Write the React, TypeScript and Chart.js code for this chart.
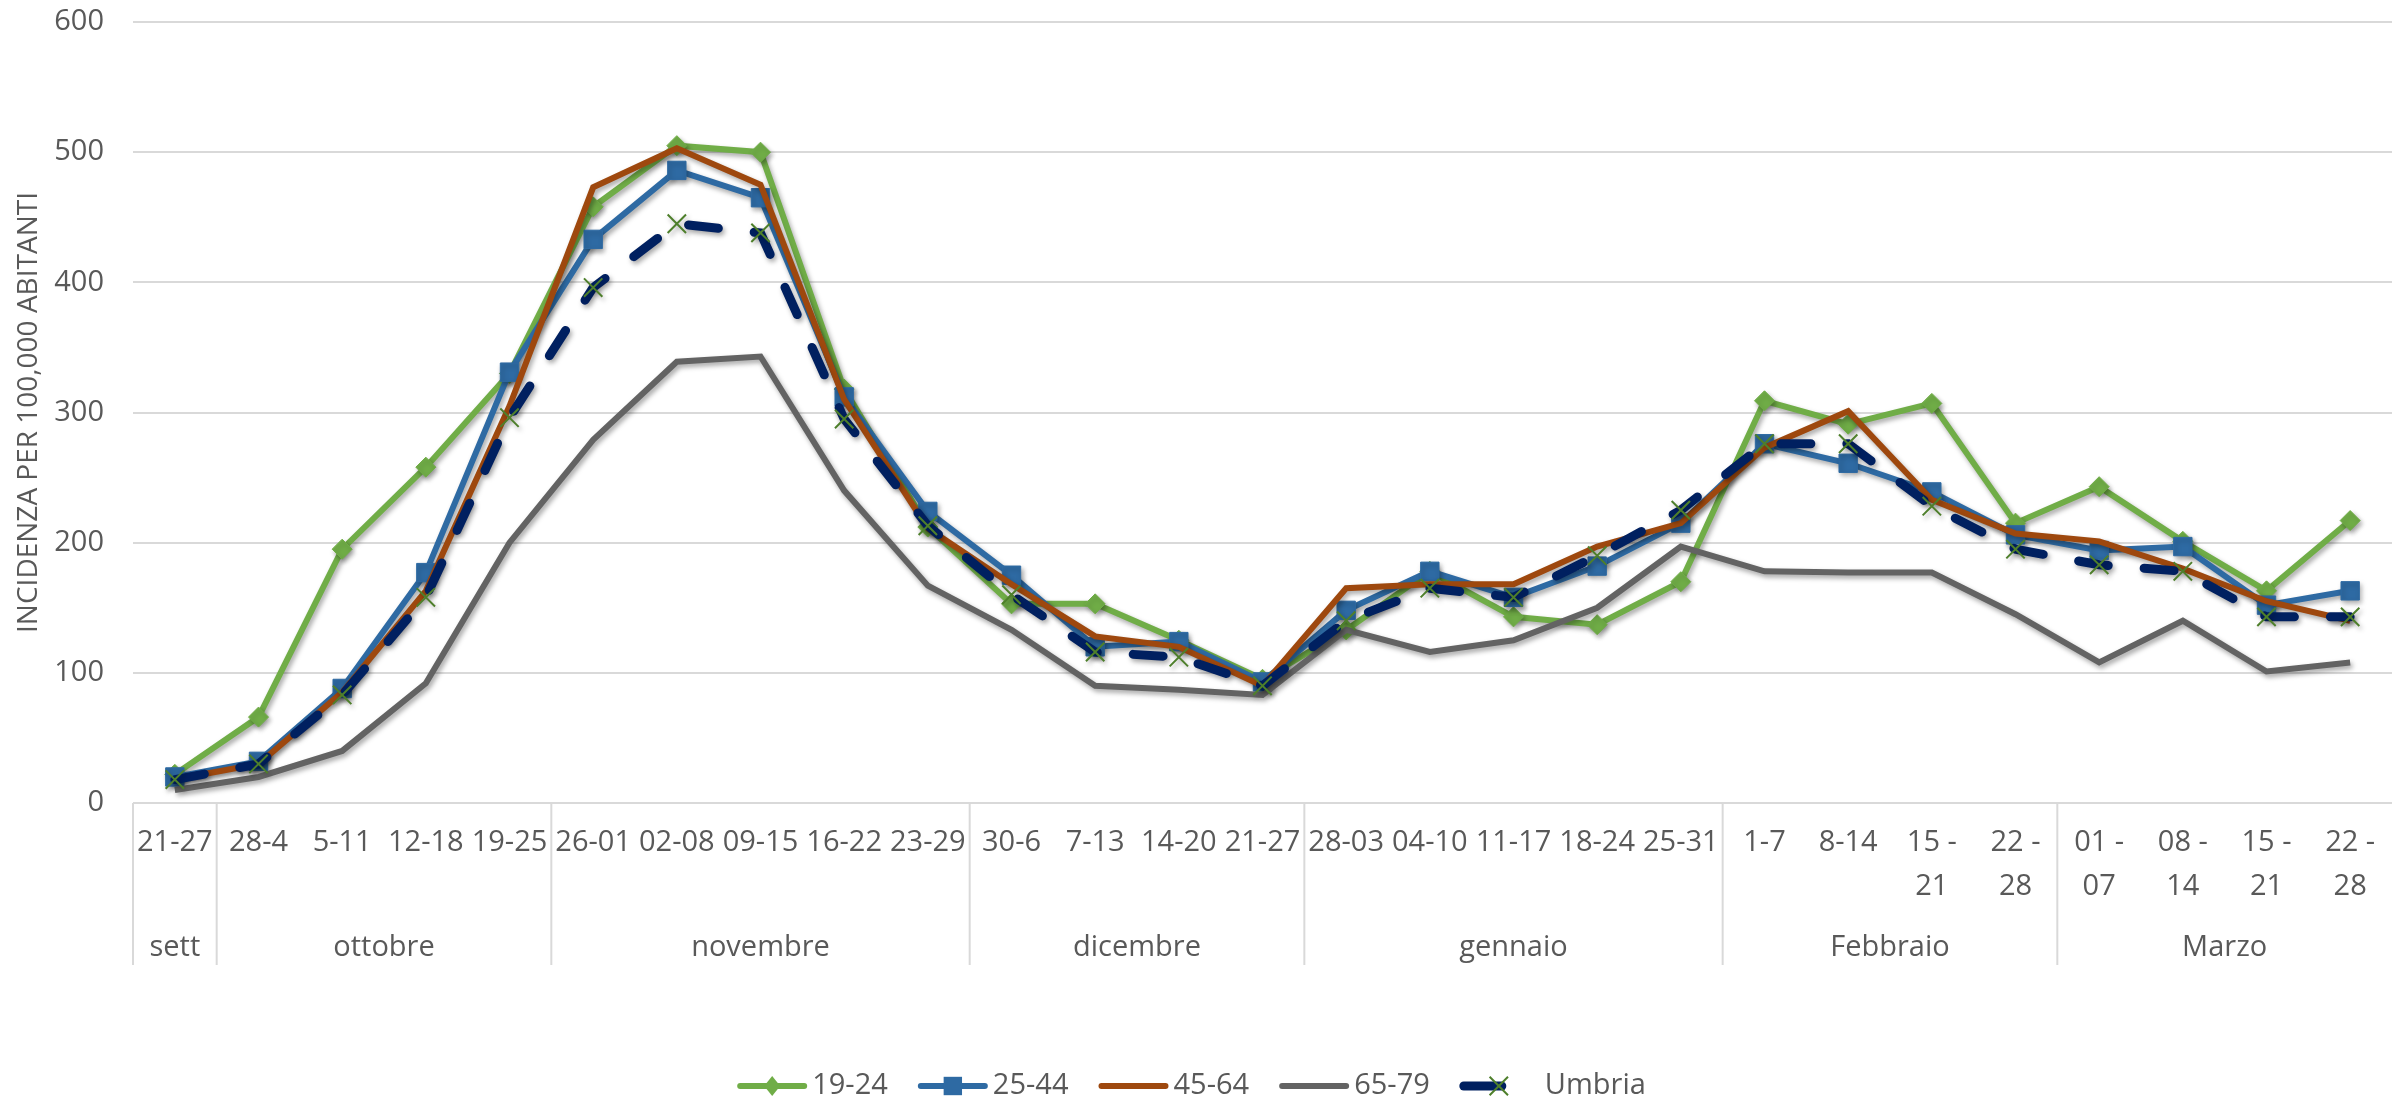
import React, { useEffect, useRef } from 'react';
import { Chart, registerables } from 'chart.js';

Chart.register(...registerables);

const W = 2407;
const H = 1099;

const weekLabels = ['21-27', '28-4', '5-11', '12-18', '19-25', '26-01', '02-08', '09-15', '16-22', '23-29', '30-6', '7-13', '14-20', '21-27', '28-03', '04-10', '11-17', '18-24', '25-31', '1-7', '8-14', '15 - 21', '22 - 28', '01 - 07', '08 - 14', '15 - 21', '22 - 28'];
const monthNames = ['sett', 'ottobre', 'novembre', 'dicembre', 'gennaio', 'Febbraio', 'Marzo'];
const monthSpans = [1, 4, 5, 4, 5, 4, 4];

const s1924 = [22, 66, 195, 258, 330, 458, 505, 500, 318, 212, 153, 153, 125, 95, 133, 178, 143, 137, 170, 309, 291, 307, 215, 243, 201, 163, 217];
const s2544 = [20, 32, 88, 177, 331, 433, 486, 465, 312, 224, 175, 120, 124, 93, 148, 178, 158, 182, 215, 276, 261, 239, 206, 194, 197, 152, 163];
const s4564 = [18, 30, 85, 163, 305, 473, 503, 475, 310, 211, 168, 128, 120, 90, 165, 168, 168, 197, 215, 273, 301, 233, 207, 201, 180, 155, 140];
const s6579 = [10, 20, 40, 92, 200, 279, 339, 343, 240, 167, 133, 90, 87, 83, 133, 116, 125, 150, 197, 178, 177, 177, 145, 108, 140, 101, 108];
const sUmbria = [18, 30, 83, 158, 296, 396, 445, 438, 295, 213, 160, 116, 112, 90, 140, 165, 158, 190, 225, 276, 276, 228, 195, 183, 178, 143, 143];

const yTicksMax = 600;
const yTicksStep = 100;
const yTitle = 'INCIDENZA PER 100,000 ABITANTI';

const FONT = "'Open Sans', 'Noto Sans', sans-serif";
const TXT = '#595959';
const GRID = '#d9d9d9';

const C_GREEN = '#70AD47';
const C_BLUE = '#2E6AA3';
const C_ORANGE = '#9E480E';
const C_GRAY = '#636363';
const C_NAVY = '#002060';
const C_X = '#4E7F2B';

function splitLabel(l: string): string | string[] {
  if (l.includes(' - ')) {
    const [a, b] = l.split(' - ');
    return [a + ' -', b];
  }
  return l;
}

const shadowPlugin = {
  id: 'shadowPlugin',
  beforeDatasetsDraw(chart: any) {
    const ctx = chart.ctx;
    ctx.save();
    ctx.shadowColor = 'rgba(0,0,0,0.35)';
    ctx.shadowBlur = 5;
    ctx.shadowOffsetX = 2;
    ctx.shadowOffsetY = 3;
  },
  afterDatasetsDraw(chart: any) {
    chart.ctx.restore();
  },
};

const groupPlugin = {
  id: 'groupPlugin',
  afterDraw(chart: any) {
    const ctx = chart.ctx;
    const xs = chart.scales.x;
    const n = weekLabels.length;
    const cw = (xs.right - xs.left) / n;
    ctx.save();
    ctx.strokeStyle = GRID;
    ctx.lineWidth = 2;
    ctx.fillStyle = TXT;
    ctx.font = `29px ${FONT}`;
    ctx.textAlign = 'center';
    ctx.textBaseline = 'middle';
    let idx = 0;
    for (let g = 0; g < monthNames.length; g++) {
      const x0 = xs.left + idx * cw;
      ctx.beginPath();
      ctx.moveTo(x0, xs.top);
      ctx.lineTo(x0, xs.top + 162);
      ctx.stroke();
      const cx = x0 + (monthSpans[g] * cw) / 2;
      ctx.fillText(monthNames[g], cx, xs.top + 145);
      idx += monthSpans[g];
    }
    ctx.restore();
  },
};

const legendPlugin = {
  id: 'customLegend',
  afterDraw(chart: any) {
    const ctx = chart.ctx;
    const y = 1086;
    const sample = 70;
    const gapText = 5;
    const gapItem = 30;
    ctx.save();
    ctx.font = `29px ${FONT}`;
    ctx.textBaseline = 'middle';
    ctx.textAlign = 'left';
    const items = chart.data.datasets.map((d: any) => ({ d, w: ctx.measureText(d.label).width }));
    const total = items.reduce((a: number, it: any) => a + sample + gapText + it.w, 0) + gapItem * (items.length - 1) + 10;
    let x = W / 2 - 12 - total / 2;
    for (const it of items) {
      const d = it.d;
      const dashed = d.borderDash && d.borderDash.length;
      ctx.save();
      ctx.strokeStyle = d.borderColor;
      ctx.lineWidth = d.borderWidth;
      ctx.lineCap = 'round';
      ctx.beginPath();
      if (dashed) {
        ctx.moveTo(x + 4, y);
        ctx.lineTo(x + 42, y);
      } else {
        ctx.moveTo(x + 3, y);
        ctx.lineTo(x + sample - 3, y);
      }
      ctx.stroke();
      const mx = x + sample / 2 + (dashed ? 4 : 0);
      const r = d.pointRadius;
      if (d.pointStyle === 'rectRot' && r > 0) {
        ctx.fillStyle = d.pointBackgroundColor;
        ctx.beginPath();
        ctx.moveTo(mx, y - r);
        ctx.lineTo(mx + r * 0.8, y);
        ctx.lineTo(mx, y + r);
        ctx.lineTo(mx - r * 0.8, y);
        ctx.closePath();
        ctx.fill();
      } else if (d.pointStyle === 'rect' && r > 0) {
        const s = r * Math.SQRT1_2;
        ctx.fillStyle = d.pointBackgroundColor;
        ctx.fillRect(mx - s, y - s, 2 * s, 2 * s);
      } else if (d.pointStyle === 'crossRot' && r > 0) {
        const s = r * Math.SQRT1_2;
        ctx.strokeStyle = d.pointBorderColor;
        ctx.lineWidth = d.pointBorderWidth;
        ctx.lineCap = 'butt';
        ctx.beginPath();
        ctx.moveTo(mx - s, y - s);
        ctx.lineTo(mx + s, y + s);
        ctx.moveTo(mx - s, y + s);
        ctx.lineTo(mx + s, y - s);
        ctx.stroke();
      }
      ctx.restore();
      ctx.fillStyle = TXT;
      const tx = x + sample + gapText + (dashed ? 10 : 0);
      ctx.fillText(d.label, tx, y);
      x += sample + gapText + it.w + gapItem;
    }
    ctx.restore();
  },
};

export default function App() {
  const ref = useRef<HTMLCanvasElement | null>(null);

  useEffect(() => {
    if (!ref.current) return;
    const chart = new Chart(ref.current, {
      type: 'line',
      data: {
        labels: weekLabels.map(splitLabel),
        datasets: [
          {
            label: '19-24',
            data: s1924,
            borderColor: C_GREEN,
            backgroundColor: C_GREEN,
            borderWidth: 6,
            pointStyle: 'rectRot',
            pointRadius: 10,
            pointBackgroundColor: C_GREEN,
            pointBorderColor: C_GREEN,
            pointBorderWidth: 1,
            order: 5,
          },
          {
            label: '25-44',
            data: s2544,
            borderColor: C_BLUE,
            backgroundColor: C_BLUE,
            borderWidth: 6,
            pointStyle: 'rect',
            pointRadius: 13,
            pointBackgroundColor: C_BLUE,
            pointBorderColor: C_BLUE,
            pointBorderWidth: 1,
            order: 4,
          },
          {
            label: '45-64',
            data: s4564,
            borderColor: C_ORANGE,
            backgroundColor: C_ORANGE,
            borderWidth: 6,
            pointRadius: 0,
            order: 3,
          },
          {
            label: '65-79',
            data: s6579,
            borderColor: C_GRAY,
            backgroundColor: C_GRAY,
            borderWidth: 6,
            pointRadius: 0,
            order: 2,
          },
          {
            label: 'Umbria',
            data: sUmbria,
            borderColor: C_NAVY,
            backgroundColor: C_NAVY,
            borderWidth: 9,
            borderDash: [30, 36],
            borderCapStyle: 'round',
            pointStyle: 'crossRot',
            pointRadius: 13,
            pointBackgroundColor: 'rgba(0,0,0,0)',
            pointBorderColor: C_X,
            pointBorderWidth: 2,
            order: 1,
          },
        ],
      },
      options: {
        responsive: false,
        animation: false,
        devicePixelRatio: 1,
        layout: { padding: { left: 0, right: 6, top: 22, bottom: 0 } },
        plugins: {
          legend: { display: false },
          tooltip: { enabled: false },
        },
        elements: { line: { tension: 0 } },
        scales: {
          x: {
            type: 'category',
            offset: true,
            grid: { display: false, drawTicks: false },
            border: { display: false },
            ticks: {
              autoSkip: false,
              maxRotation: 0,
              minRotation: 0,
              padding: 18,
              color: TXT,
              font: { family: FONT, size: 29, lineHeight: 1.5 },
            },
            afterFit: (s: any) => {
              s.height = H - 803;
              s.paddingLeft = 0;
              s.paddingRight = 0;
            },
          },
          y: {
            min: 0,
            max: yTicksMax,
            grid: { color: GRID, lineWidth: 2, drawTicks: false },
            border: { display: false },
            ticks: {
              stepSize: yTicksStep,
              padding: 29,
              color: TXT,
              font: { family: FONT, size: 29 },
            },
            title: {
              display: true,
              text: yTitle,
              color: TXT,
              font: { family: FONT, size: 28 },
              padding: { top: 12, bottom: 0 },
            },
            afterFit: (s: any) => {
              s.width = 133;
              s.paddingTop = 0;
              s.paddingBottom = 0;
            },
          },
        },
      },
      plugins: [shadowPlugin, groupPlugin, legendPlugin],
    });
    return () => chart.destroy();
  }, []);

  return (
    <div style={{ position: 'fixed', left: 0, top: 0, width: W, height: H, background: '#fff' }}>
      <canvas ref={ref} width={W} height={H} style={{ display: 'block', width: W, height: H }} />
    </div>
  );
}
